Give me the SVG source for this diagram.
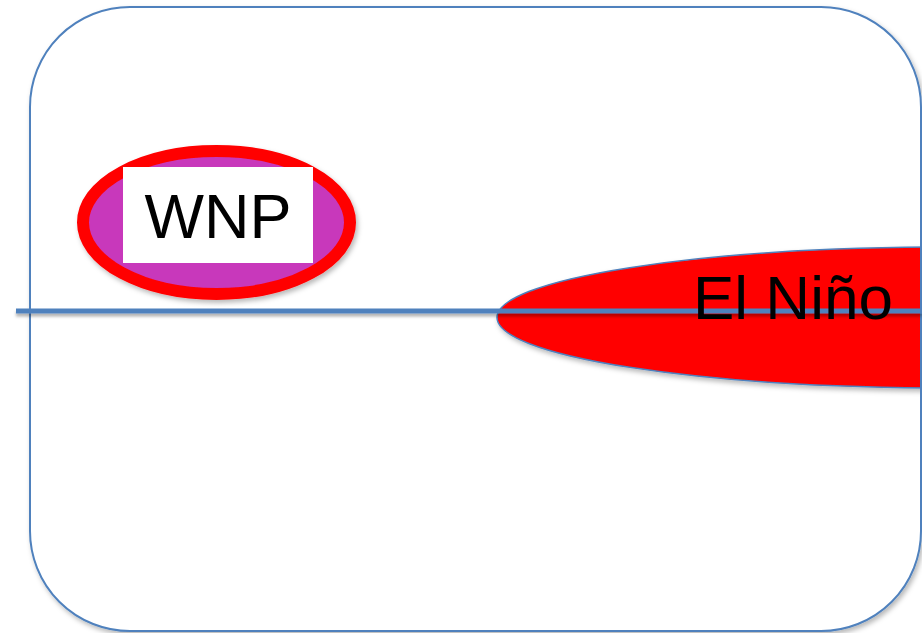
<svg xmlns="http://www.w3.org/2000/svg" width="922" height="633" viewBox="0 0 922 633">
  <style>
    .frame { fill: #FFFFFF; stroke: #4F81BD; stroke-width: 2; }
    .label { font-family: "Liberation Sans", Arial, sans-serif; fill: #000000; }
  </style>
  <defs>
    <filter id="shadow" x="-10%" y="-10%" width="125%" height="130%">
      <feDropShadow dx="2" dy="3" stdDeviation="2.5" flood-color="#000000" flood-opacity="0.28"/>
    </filter>
    <filter id="lineShadow" filterUnits="userSpaceOnUse" x="0" y="300" width="922" height="25">
      <feDropShadow dx="0" dy="3" stdDeviation="1.5" flood-color="#000000" flood-opacity="0.3"/>
    </filter>
  </defs>

  <rect width="922" height="633" fill="#FFFFFF"/>

  <!-- outer panel -->
  <g id="panel">
    <rect class="frame" x="30" y="7" width="891" height="624" rx="100" ry="100" filter="url(#shadow)"/>
  </g>

  <!-- El Niño warm tongue -->
  <g id="el-nino">
    <ellipse cx="950" cy="317.5" rx="453" ry="70.5" fill="#FF0000" stroke="#4F81BD" stroke-width="1.5" filter="url(#shadow)"/>
  </g>

  <!-- panel right edge drawn over the tongue -->
  <line x1="921" y1="107" x2="921" y2="531" stroke="#4F81BD" stroke-width="2"/>

  <!-- equator -->
  <g id="connectors">
    <rect x="16" y="308.5" width="906" height="5" fill="#4F81BD" filter="url(#lineShadow)"/>
  </g>

  <!-- El Niño label sits above the equator line -->
  <g id="el-nino-label">
    <text class="label" x="693" y="319" font-size="62">El Niño</text>
  </g>

  <!-- western North Pacific -->
  <g id="wnp">
    <ellipse cx="216.5" cy="222.5" rx="133.5" ry="71.5" fill="#C837BB" stroke="#FF0000" stroke-width="12" filter="url(#shadow)"/>
    <rect x="123" y="167" width="190" height="96" fill="#FFFFFF"/>
    <text class="label" x="218" y="238" font-size="63" text-anchor="middle">WNP</text>
  </g>
</svg>
